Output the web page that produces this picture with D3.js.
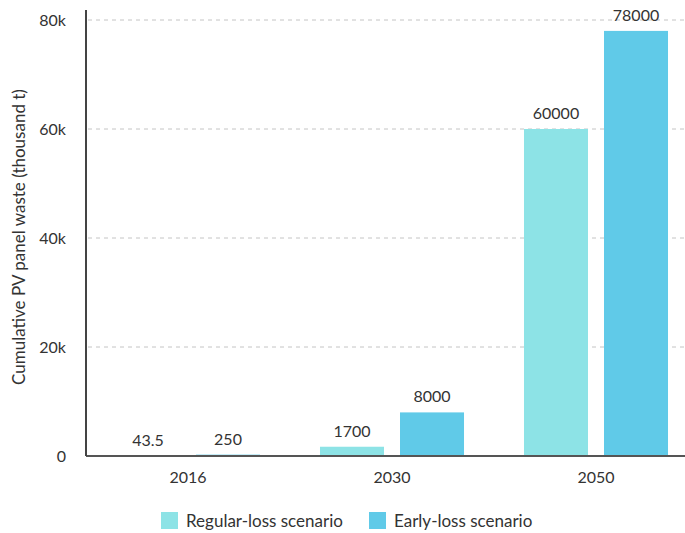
<!DOCTYPE html>
<html>
<head>
<meta charset="utf-8">
<script src="https://cdn.jsdelivr.net/npm/d3@7"></script>
<style>
  body { margin: 0; background: #fff; }
  svg { display: block; font-family: Lato, sans-serif; }
  .grid line { stroke: #c4c4c4; stroke-dasharray: 4,4; }
  .lbl { fill: #333; font-size: 16px; }
</style>
</head>
<body>
<div id="chart"></div>
<script>
var years = ['2016', '2030', '2050'];
var series = ['Regular-loss scenario', 'Early-loss scenario'];
var regularLoss = [43.5, 1700, 60000];
var earlyLoss = [250, 8000, 78000];
var valueLabels = [['43.5', '1700', '60000'], ['250', '8000', '78000']];
var yTicks = [0, 20000, 40000, 60000, 80000];
var colors = ['#8de3e6', '#60cae8'];

var W = 685, H = 533;
var margin = {top: 20, left: 86, bottom: 77};
var plotBottom = H - margin.bottom;

var svg = d3.select('#chart').append('svg')
  .attr('width', W)
  .attr('height', H);

var x0 = d3.scaleBand()
  .domain(years)
  .range([margin.left, 698])
  .paddingInner(0.294)
  .paddingOuter(0.147);

var x1 = d3.scaleBand()
  .domain(series)
  .range([0, x0.bandwidth()])
  .paddingInner(0.2);

var y = d3.scaleLinear()
  .domain([0, 80000])
  .range([plotBottom, margin.top]);

// gridlines
svg.append('g')
  .attr('class', 'grid')
  .selectAll('line')
  .data(yTicks.slice(1))
  .enter().append('line')
  .attr('x1', margin.left + 2)
  .attr('x2', W)
  .attr('y1', function(d) { return y(d); })
  .attr('y2', function(d) { return y(d); });

// y axis labels
var yAxis = svg.append('g')
  .attr('transform', 'translate(' + margin.left + ',0)')
  .call(d3.axisLeft(y).tickValues(yTicks).tickSize(0).tickPadding(20)
    .tickFormat(function(d) { return d === 0 ? '0' : (d / 1000) + 'k'; }));
yAxis.select('.domain').remove();
yAxis.selectAll('text')
  .attr('fill', '#333')
  .style('font-family', 'Lato, sans-serif')
  .style('font-size', '16px');

var rows = years.map(function(yr, i) {
  return {year: yr, vals: [regularLoss[i], earlyLoss[i]], labels: [valueLabels[0][i], valueLabels[1][i]]};
});

var groups = svg.selectAll('.group')
  .data(rows)
  .enter().append('g')
  .attr('class', 'group')
  .attr('transform', function(d) { return 'translate(' + x0(d.year) + ',0)'; });

groups.selectAll('rect')
  .data(function(d) {
    return series.map(function(s, j) { return {s: s, v: d.vals[j], c: colors[j]}; });
  })
  .enter().append('rect')
  .attr('x', function(d) { return x1(d.s); })
  .attr('width', x1.bandwidth())
  .attr('y', function(d) { return y(d.v); })
  .attr('height', function(d) { return plotBottom - y(d.v); })
  .attr('fill', function(d) { return d.c; });

groups.selectAll('text')
  .data(function(d) {
    return series.map(function(s, j) { return {s: s, v: d.vals[j], t: d.labels[j]}; });
  })
  .enter().append('text')
  .attr('class', 'lbl')
  .attr('text-anchor', 'middle')
  .attr('x', function(d) { return x1(d.s) + x1.bandwidth() / 2; })
  .attr('y', function(d) { return y(d.v) - 10; })
  .text(function(d) { return d.t; });

// x axis
var xAxis = svg.append('g')
  .attr('transform', 'translate(0,' + plotBottom + ')')
  .call(d3.axisBottom(x0).tickSize(0).tickPadding(16));
xAxis.select('.domain').remove();
xAxis.selectAll('text')
  .attr('fill', '#333')
  .style('font-family', 'Lato, sans-serif')
  .style('font-size', '16px');

svg.append('line')
  .attr('x1', margin.left).attr('x2', W)
  .attr('y1', plotBottom).attr('y2', plotBottom)
  .attr('stroke', '#555').attr('stroke-width', 2);
svg.append('line')
  .attr('x1', margin.left).attr('x2', margin.left)
  .attr('y1', 10).attr('y2', plotBottom)
  .attr('stroke', '#444').attr('stroke-width', 2);

// y axis title
svg.append('text')
  .attr('transform', 'translate(25,' + 237 + ') rotate(-90)')
  .attr('text-anchor', 'middle')
  .attr('fill', '#333')
  .style('font-size', '17px')
  .text('Cumulative PV panel waste (thousand t)');

// legend
var legendX = [161, 369];
var legend = svg.selectAll('.legend')
  .data(series)
  .enter().append('g')
  .attr('class', 'legend')
  .attr('transform', function(d, i) { return 'translate(' + legendX[i] + ',512)'; });
legend.append('rect')
  .attr('width', 17).attr('height', 17)
  .attr('fill', function(d, i) { return colors[i]; });
legend.append('text')
  .attr('x', 25).attr('y', 15)
  .attr('fill', '#333')
  .style('font-size', '17px')
  .text(function(d) { return d; });
</script>
</body>
</html>
